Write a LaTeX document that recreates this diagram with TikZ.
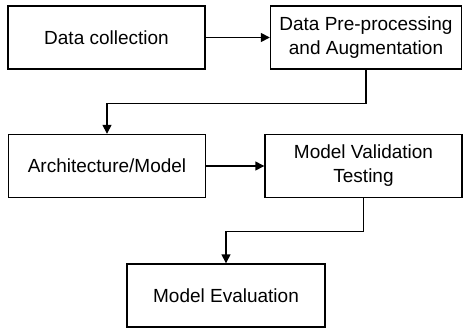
\documentclass[tikz,border=0pt]{standalone}
\usepackage{fontspec}
\setmainfont{Liberation Sans}
\usetikzlibrary{arrows.meta}

\begin{document}
\begin{tikzpicture}[x=1pt,y=-1pt,
	box/.style={draw,line width=1.4pt,minimum height=63pt,align=center,inner sep=1pt,font=\fontsize{19}{24}\selectfont},
	>={Triangle[length=9pt,width=9pt]}]
	\useasboundingbox (0,0) rectangle (463,327);
	% Nodes start here
	\node (collect) at (106.5,37.5) [box,minimum width=197pt] {Data collection};
	\node (prep) at (366,37.5) [box,minimum width=191pt] {Data Pre-processing\\and Augmentation};
	\node (arch) at (107,166) [box,minimum width=197pt] {Architecture/Model};
	\node (valid) at (363.5,166) [box,minimum width=197pt] {Model Validation\\Testing};
	\node (eval) at (226,295.5) [box,minimum width=198pt] {Model Evaluation};

	% Lines start here
	\draw[->,line width=1.4pt] (collect) -- (prep);
	\draw[->,line width=1.4pt] (prep.south) -- ++(0,34) -| (arch.north);
	\draw[->,line width=1.4pt] (arch) -- (valid);
	\draw[->,line width=1.4pt] (valid.south) -- ++(0,33) -| (eval.north);

\end{tikzpicture}
\end{document}
